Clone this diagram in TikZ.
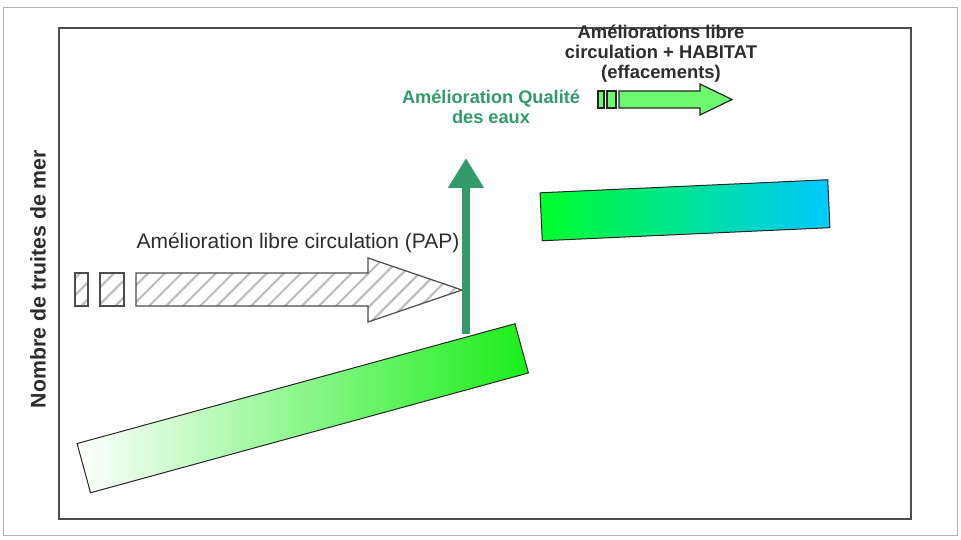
\documentclass[tikz,border=0pt]{standalone}
\usepackage{fontspec}
\setmainfont{Liberation Sans}
\usetikzlibrary{arrows.meta,patterns.meta}

\definecolor{qualite}{RGB}{50,155,105}
\definecolor{txtgray}{RGB}{45,45,45}
\definecolor{arrowgreen}{RGB}{110,250,110}
\definecolor{bargreen}{RGB}{25,238,25}
\definecolor{barlime}{RGB}{0,255,45}
\definecolor{barcyan}{RGB}{0,200,255}

\begin{document}
\begin{tikzpicture}[
  x=1pt, y=-1pt, >=Latex,
  every node/.style={text=txtgray},
  frame/.style={draw=black!30, line width=1pt},
  plotarea/.style={draw=black!70, line width=1.8pt},
  hatch/.style={draw=black!70, line width=1.2pt, pattern color=black!25,
                pattern={Lines[angle=45, distance=12pt, line width=2.2pt]}},
  greenbox/.style={draw=black!85, line width=1.2pt, fill=arrowgreen},
  bar/.style={draw=black!85, line width=1pt, inner sep=0pt},
]
  \useasboundingbox (0,0) rectangle (961,540);

  % frames
  \draw[frame] (3,8) rectangle (957,535);
  \draw[plotarea] (59,28) rectangle (911,519);

  \node[rotate=90, font=\bfseries\fontsize{21.3}{24}\selectfont] (ylabel) at (38,279)
    {Nombre de truites de mer};

  % slanted bars
  \node[bar, rotate=15.3, minimum width=454pt, minimum height=51pt,
        left color=white, right color=bargreen] (flux) at (302.75,408.25) {};
  \node[bar, rotate=2.6, minimum width=288pt, minimum height=48pt,
        left color=barlime, right color=barcyan] (cible) at (685,210.25) {};

  % libre circulation (PAP)
  \draw[hatch] (75,273) rectangle (88,306);
  \draw[hatch] (100,273) rectangle (124,306);
  \draw[hatch] (136,273) -- (368,273) -- (368,258) -- (462,290)
    -- (368,322) -- (368,306) -- (136,306) -- cycle;
  \node[anchor=base west, font=\fontsize{21}{24}\selectfont] (pap) at (133,248)
    {Amélioration libre circulation (PAP)};

  % qualite des eaux
  \coordinate (q0) at (466,334);
  \coordinate (q1) at (466,158);
  \draw[line width=8pt, draw=qualite, -{Triangle[width=34pt, length=30pt]}] (q0) -- (q1);
  \node[align=center, text=qualite, font=\bfseries\fontsize{18.2}{20}\selectfont]
    (qlbl) at (491,107) {Amélioration Qualité\\des eaux};

  % libre circulation + habitat
  \draw[greenbox] (598,91) rectangle (604,108);
  \draw[greenbox] (607,91) rectangle (616,108);
  \draw[greenbox] (619,91) -- (700,91) -- (700,84) -- (732,99.5)
    -- (700,115) -- (700,108) -- (619,108) -- cycle;
  \node[align=center, font=\bfseries\fontsize{18.4}{20}\selectfont] (hab) at (661,54)
    {Améliorations libre\\circulation + HABITAT\\(effacements)};
\end{tikzpicture}
\end{document}
